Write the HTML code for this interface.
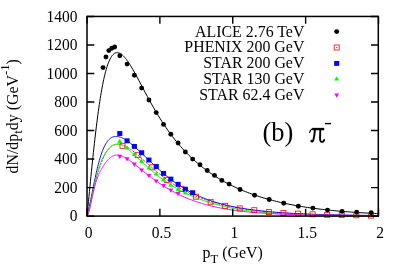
<!DOCTYPE html>
<html><head><meta charset="utf-8"><title>chart</title>
<style>html,body{margin:0;padding:0;background:#fff;}body{width:407px;height:267px;overflow:hidden;position:relative;font-family:"Liberation Serif",serif;}</style></head>
<body>
<svg width="407" height="267" viewBox="0 0 407 267" style="position:absolute;left:0;top:0">
<rect width="407" height="267" fill="#fff"/>
<path d="M87.00,216.00 L87.49,211.26 L87.98,206.35 L88.47,201.38 L88.97,196.39 L89.46,191.39 L89.95,186.41 L90.44,181.45 L90.93,176.52 L91.42,171.64 L91.91,166.81 L92.40,162.04 L92.90,157.33 L93.39,152.70 L93.88,148.16 L94.37,143.69 L94.86,139.32 L95.35,135.05 L95.84,130.88 L96.33,126.81 L96.83,122.85 L97.32,119.00 L97.81,115.26 L98.30,111.64 L98.79,108.13 L99.28,104.74 L99.77,101.47 L100.26,98.32 L100.76,95.29 L101.25,92.38 L101.74,89.58 L102.23,86.90 L102.72,84.35 L103.21,81.90 L103.70,79.58 L104.20,77.36 L104.69,75.26 L105.18,73.27 L105.67,71.39 L106.16,69.61 L106.65,67.94 L107.14,66.37 L107.63,64.90 L108.13,63.53 L108.62,62.25 L109.11,61.06 L109.60,59.97 L110.09,58.96 L110.58,58.04 L111.07,57.20 L111.56,56.44 L112.06,55.76 L112.55,55.15 L113.04,54.62 L113.53,54.15 L114.02,53.75 L114.51,53.42 L115.00,53.14 L115.49,52.93 L115.99,52.78 L116.48,52.68 L116.97,52.63 L117.46,52.63 L117.95,52.69 L118.44,52.79 L118.93,52.93 L119.43,53.12 L119.92,53.35 L120.41,53.61 L120.90,53.92 L121.39,54.26 L121.88,54.64 L122.37,55.05 L122.86,55.49 L123.36,55.96 L123.85,56.46 L124.34,56.99 L124.83,57.55 L125.32,58.13 L125.81,58.74 L126.30,59.37 L126.79,60.02 L127.29,60.69 L127.78,61.38 L128.27,62.10 L128.76,62.83 L129.25,63.57 L129.74,64.34 L130.23,65.12 L130.72,65.91 L132.81,69.42 L134.89,73.11 L136.97,76.94 L139.05,80.84 L141.14,84.78 L143.22,88.73 L145.30,92.65 L147.38,96.54 L149.46,100.36 L151.55,104.12 L153.63,107.79 L155.71,111.37 L157.79,114.85 L159.88,118.24 L161.96,121.52 L164.04,124.70 L166.12,127.78 L168.20,130.75 L170.29,133.63 L172.37,136.41 L174.45,139.09 L176.53,141.68 L178.61,144.17 L180.70,146.58 L182.78,148.91 L184.86,151.15 L186.94,153.31 L189.02,155.40 L191.11,157.41 L193.19,159.36 L195.27,161.23 L197.35,163.04 L199.44,164.79 L201.52,166.48 L203.60,168.11 L205.68,169.69 L207.76,171.21 L209.85,172.69 L211.93,174.11 L214.01,175.49 L216.09,176.82 L218.17,178.11 L220.26,179.36 L222.34,180.56 L224.42,181.73 L226.50,182.86 L228.59,183.95 L230.67,185.01 L232.75,186.03 L234.83,187.03 L236.91,187.99 L239.00,188.92 L241.08,189.82 L243.16,190.69 L245.24,191.54 L247.32,192.35 L249.41,193.15 L251.49,193.91 L253.57,194.66 L255.65,195.38 L257.74,196.07 L259.82,196.75 L261.90,197.40 L263.98,198.03 L266.06,198.65 L268.15,199.24 L270.23,199.81 L272.31,200.37 L274.39,200.90 L276.48,201.42 L278.56,201.93 L280.64,202.42 L282.72,202.89 L284.80,203.34 L286.89,203.78 L288.97,204.21 L291.05,204.62 L293.13,205.02 L295.21,205.41 L297.30,205.78 L299.38,206.14 L301.46,206.49 L303.54,206.83 L305.62,207.15 L307.71,207.47 L309.79,207.77 L311.87,208.07 L313.95,208.35 L316.04,208.63 L318.12,208.89 L320.20,209.15 L322.28,209.40 L324.36,209.64 L326.45,209.87 L328.53,210.09 L330.61,210.30 L332.69,210.51 L334.77,210.71 L336.86,210.91 L338.94,211.09 L341.02,211.27 L343.10,211.45 L345.19,211.61 L347.27,211.78 L349.35,211.93 L351.43,212.08 L353.51,212.23 L355.60,212.37 L357.68,212.50 L359.76,212.63 L361.84,212.76 L363.93,212.88 L366.01,213.00 L368.09,213.11 L370.17,213.22 L372.25,213.32 L374.34,213.42 L376.42,213.52 L378.50,213.61" stroke="#000" stroke-width="1.0" fill="none"/>
<path d="M87.00,216.00 L87.49,214.16 L87.98,212.17 L88.47,210.13 L88.97,208.06 L89.46,205.96 L89.95,203.86 L90.44,201.76 L90.93,199.66 L91.42,197.58 L91.91,195.51 L92.40,193.46 L92.90,191.43 L93.39,189.43 L93.88,187.46 L94.37,185.52 L94.86,183.62 L95.35,181.76 L95.84,179.93 L96.33,178.15 L96.83,176.42 L97.32,174.73 L97.81,173.08 L98.30,171.49 L98.79,169.94 L99.28,168.44 L99.77,166.99 L100.26,165.59 L100.76,164.24 L101.25,162.93 L101.74,161.68 L102.23,160.48 L102.72,159.33 L103.21,158.23 L103.70,157.17 L104.20,156.17 L104.69,155.21 L105.18,154.30 L105.67,153.43 L106.16,152.61 L106.65,151.83 L107.14,151.10 L107.63,150.41 L108.13,149.76 L108.62,149.15 L109.11,148.58 L109.60,148.05 L110.09,147.56 L110.58,147.10 L111.07,146.68 L111.56,146.30 L112.06,145.94 L112.55,145.63 L113.04,145.34 L113.53,145.08 L114.02,144.86 L114.51,144.66 L115.00,144.49 L115.49,144.35 L115.99,144.24 L116.48,144.15 L116.97,144.09 L117.46,144.05 L117.95,144.03 L118.44,144.03 L118.93,144.06 L119.43,144.11 L119.92,144.18 L120.41,144.26 L120.90,144.37 L121.39,144.49 L121.88,144.63 L122.37,144.79 L122.86,144.96 L123.36,145.15 L123.85,145.35 L124.34,145.56 L124.83,145.79 L125.32,146.03 L125.81,146.29 L126.30,146.55 L126.79,146.83 L127.29,147.12 L127.78,147.42 L128.27,147.72 L128.76,148.04 L129.25,148.37 L129.74,148.70 L130.23,149.04 L130.72,149.39 L132.81,150.95 L134.89,152.61 L136.97,154.35 L139.05,156.14 L141.14,157.97 L143.22,159.83 L145.30,161.69 L147.38,163.55 L149.46,165.40 L151.55,167.23 L153.63,169.04 L155.71,170.81 L157.79,172.54 L159.88,174.23 L161.96,175.88 L164.04,177.49 L166.12,179.05 L168.20,180.55 L170.29,182.01 L172.37,183.42 L174.45,184.79 L176.53,186.10 L178.61,187.36 L180.70,188.58 L182.78,189.75 L184.86,190.87 L186.94,191.95 L189.02,192.99 L191.11,193.99 L193.19,194.94 L195.27,195.85 L197.35,196.73 L199.44,197.57 L201.52,198.37 L203.60,199.14 L205.68,199.87 L207.76,200.58 L209.85,201.25 L211.93,201.90 L214.01,202.51 L216.09,203.10 L218.17,203.67 L220.26,204.21 L222.34,204.72 L224.42,205.21 L226.50,205.68 L228.59,206.14 L230.67,206.57 L232.75,206.98 L234.83,207.37 L236.91,207.75 L239.00,208.11 L241.08,208.45 L243.16,208.78 L245.24,209.09 L247.32,209.39 L249.41,209.68 L251.49,209.95 L253.57,210.22 L255.65,210.47 L257.74,210.71 L259.82,210.94 L261.90,211.16 L263.98,211.37 L266.06,211.57 L268.15,211.76 L270.23,211.94 L272.31,212.12 L274.39,212.28 L276.48,212.44 L278.56,212.60 L280.64,212.74 L282.72,212.88 L284.80,213.02 L286.89,213.15 L288.97,213.27 L291.05,213.39 L293.13,213.50 L295.21,213.61 L297.30,213.71 L299.38,213.81 L301.46,213.90 L303.54,213.99 L305.62,214.08 L307.71,214.16 L309.79,214.24 L311.87,214.32 L313.95,214.39 L316.04,214.46 L318.12,214.52 L320.20,214.59 L322.28,214.65 L324.36,214.71 L326.45,214.76 L328.53,214.81 L330.61,214.86 L332.69,214.91 L334.77,214.96 L336.86,215.00 L338.94,215.05 L341.02,215.09 L343.10,215.13 L345.19,215.16 L347.27,215.20 L349.35,215.23 L351.43,215.27 L353.51,215.30 L355.60,215.33 L357.68,215.36 L359.76,215.38 L361.84,215.41 L363.93,215.44 L366.01,215.46 L368.09,215.48 L370.17,215.50 L372.25,215.53 L374.34,215.55 L376.42,215.57 L378.50,215.58" stroke="#f00" stroke-width="0.9" fill="none" stroke-dasharray="2.3 1.2"/>
<path d="M87.00,216.00 L87.49,214.66 L87.98,212.86 L88.47,210.83 L88.97,208.66 L89.46,206.37 L89.95,204.00 L90.44,201.58 L90.93,199.11 L91.42,196.61 L91.91,194.11 L92.40,191.60 L92.90,189.10 L93.39,186.62 L93.88,184.17 L94.37,181.76 L94.86,179.39 L95.35,177.06 L95.84,174.80 L96.33,172.59 L96.83,170.44 L97.32,168.36 L97.81,166.35 L98.30,164.41 L98.79,162.55 L99.28,160.76 L99.77,159.04 L100.26,157.40 L100.76,155.83 L101.25,154.34 L101.74,152.92 L102.23,151.57 L102.72,150.29 L103.21,149.09 L103.70,147.95 L104.20,146.88 L104.69,145.88 L105.18,144.94 L105.67,144.06 L106.16,143.24 L106.65,142.48 L107.14,141.77 L107.63,141.12 L108.13,140.52 L108.62,139.97 L109.11,139.46 L109.60,139.01 L110.09,138.59 L110.58,138.22 L111.07,137.89 L111.56,137.59 L112.06,137.33 L112.55,137.11 L113.04,136.92 L113.53,136.76 L114.02,136.64 L114.51,136.54 L115.00,136.47 L115.49,136.43 L115.99,136.41 L116.48,136.42 L116.97,136.45 L117.46,136.50 L117.95,136.57 L118.44,136.66 L118.93,136.77 L119.43,136.90 L119.92,137.05 L120.41,137.22 L120.90,137.40 L121.39,137.59 L121.88,137.81 L122.37,138.03 L122.86,138.27 L123.36,138.52 L123.85,138.78 L124.34,139.06 L124.83,139.34 L125.32,139.64 L125.81,139.95 L126.30,140.26 L126.79,140.59 L127.29,140.92 L127.78,141.27 L128.27,141.62 L128.76,141.98 L129.25,142.34 L129.74,142.72 L130.23,143.10 L130.72,143.48 L132.81,145.19 L134.89,146.98 L136.97,148.84 L139.05,150.76 L141.14,152.72 L143.22,154.70 L145.30,156.70 L147.38,158.70 L149.46,160.69 L151.55,162.67 L153.63,164.63 L155.71,166.56 L157.79,168.46 L159.88,170.32 L161.96,172.14 L164.04,173.91 L166.12,175.63 L168.20,177.31 L170.29,178.93 L172.37,180.51 L174.45,182.03 L176.53,183.49 L178.61,184.91 L180.70,186.27 L182.78,187.58 L184.86,188.84 L186.94,190.05 L189.02,191.21 L191.11,192.32 L193.19,193.38 L195.27,194.40 L197.35,195.38 L199.44,196.31 L201.52,197.20 L203.60,198.05 L205.68,198.86 L207.76,199.64 L209.85,200.38 L211.93,201.09 L214.01,201.76 L216.09,202.41 L218.17,203.02 L220.26,203.61 L222.34,204.17 L224.42,204.70 L226.50,205.21 L228.59,205.69 L230.67,206.15 L232.75,206.59 L234.83,207.01 L236.91,207.41 L239.00,207.80 L241.08,208.16 L243.16,208.51 L245.24,208.84 L247.32,209.15 L249.41,209.45 L251.49,209.74 L253.57,210.02 L255.65,210.28 L257.74,210.53 L259.82,210.76 L261.90,210.99 L263.98,211.21 L266.06,211.42 L268.15,211.61 L270.23,211.80 L272.31,211.98 L274.39,212.16 L276.48,212.32 L278.56,212.48 L280.64,212.63 L282.72,212.77 L284.80,212.91 L286.89,213.04 L288.97,213.17 L291.05,213.29 L293.13,213.40 L295.21,213.51 L297.30,213.62 L299.38,213.72 L301.46,213.81 L303.54,213.91 L305.62,213.99 L307.71,214.08 L309.79,214.16 L311.87,214.24 L313.95,214.31 L316.04,214.38 L318.12,214.45 L320.20,214.51 L322.28,214.57 L324.36,214.63 L326.45,214.69 L328.53,214.75 L330.61,214.80 L332.69,214.85 L334.77,214.90 L336.86,214.94 L338.94,214.99 L341.02,215.03 L343.10,215.07 L345.19,215.11 L347.27,215.15 L349.35,215.18 L351.43,215.21 L353.51,215.25 L355.60,215.28 L357.68,215.31 L359.76,215.34 L361.84,215.37 L363.93,215.39 L366.01,215.42 L368.09,215.44 L370.17,215.46 L372.25,215.49 L374.34,215.51 L376.42,215.53 L378.50,215.55" stroke="#00f" stroke-width="0.95" fill="none"/>
<path d="M87.00,216.00 L87.49,215.27 L87.98,214.02 L88.47,212.45 L88.97,210.65 L89.46,208.66 L89.95,206.54 L90.44,204.30 L90.93,201.99 L91.42,199.64 L91.91,197.25 L92.40,194.85 L92.90,192.47 L93.39,190.11 L93.88,187.80 L94.37,185.53 L94.86,183.32 L95.35,181.18 L95.84,179.11 L96.33,177.12 L96.83,175.20 L97.32,173.37 L97.81,171.61 L98.30,169.93 L98.79,168.33 L99.28,166.80 L99.77,165.35 L100.26,163.96 L100.76,162.64 L101.25,161.38 L101.74,160.19 L102.23,159.05 L102.72,157.97 L103.21,156.94 L103.70,155.96 L104.20,155.03 L104.69,154.14 L105.18,153.31 L105.67,152.51 L106.16,151.76 L106.65,151.05 L107.14,150.37 L107.63,149.74 L108.13,149.15 L108.62,148.59 L109.11,148.07 L109.60,147.59 L110.09,147.14 L110.58,146.72 L111.07,146.35 L111.56,146.00 L112.06,145.69 L112.55,145.41 L113.04,145.16 L113.53,144.95 L114.02,144.77 L114.51,144.61 L115.00,144.49 L115.49,144.39 L115.99,144.32 L116.48,144.28 L116.97,144.27 L117.46,144.28 L117.95,144.32 L118.44,144.38 L118.93,144.47 L119.43,144.57 L119.92,144.70 L120.41,144.85 L120.90,145.02 L121.39,145.21 L121.88,145.42 L122.37,145.65 L122.86,145.89 L123.36,146.15 L123.85,146.42 L124.34,146.71 L124.83,147.01 L125.32,147.32 L125.81,147.65 L126.30,147.99 L126.79,148.34 L127.29,148.70 L127.78,149.07 L128.27,149.45 L128.76,149.84 L129.25,150.23 L129.74,150.63 L130.23,151.04 L130.72,151.46 L132.81,153.28 L134.89,155.18 L136.97,157.12 L139.05,159.08 L141.14,161.05 L143.22,163.00 L145.30,164.93 L147.38,166.82 L149.46,168.68 L151.55,170.49 L153.63,172.26 L155.71,173.97 L157.79,175.64 L159.88,177.25 L161.96,178.81 L164.04,180.32 L166.12,181.78 L168.20,183.18 L170.29,184.54 L172.37,185.85 L174.45,187.12 L176.53,188.34 L178.61,189.51 L180.70,190.64 L182.78,191.73 L184.86,192.78 L186.94,193.79 L189.02,194.77 L191.11,195.70 L193.19,196.60 L195.27,197.47 L197.35,198.30 L199.44,199.10 L201.52,199.87 L203.60,200.61 L205.68,201.32 L207.76,202.00 L209.85,202.65 L211.93,203.28 L214.01,203.88 L216.09,204.45 L218.17,205.00 L220.26,205.53 L222.34,206.03 L224.42,206.52 L226.50,206.98 L228.59,207.42 L230.67,207.84 L232.75,208.25 L234.83,208.63 L236.91,209.00 L239.00,209.35 L241.08,209.69 L243.16,210.01 L245.24,210.31 L247.32,210.60 L249.41,210.88 L251.49,211.14 L253.57,211.40 L255.65,211.63 L257.74,211.86 L259.82,212.08 L261.90,212.28 L263.98,212.48 L266.06,212.67 L268.15,212.84 L270.23,213.01 L272.31,213.17 L274.39,213.32 L276.48,213.47 L278.56,213.60 L280.64,213.73 L282.72,213.86 L284.80,213.97 L286.89,214.08 L288.97,214.19 L291.05,214.29 L293.13,214.38 L295.21,214.47 L297.30,214.56 L299.38,214.64 L301.46,214.71 L303.54,214.78 L305.62,214.85 L307.71,214.92 L309.79,214.98 L311.87,215.03 L313.95,215.09 L316.04,215.14 L318.12,215.19 L320.20,215.24 L322.28,215.28 L324.36,215.32 L326.45,215.36 L328.53,215.40 L330.61,215.43 L332.69,215.46 L334.77,215.49 L336.86,215.52 L338.94,215.55 L341.02,215.58 L343.10,215.60 L345.19,215.62 L347.27,215.65 L349.35,215.67 L351.43,215.69 L353.51,215.70 L355.60,215.72 L357.68,215.74 L359.76,215.75 L361.84,215.77 L363.93,215.78 L366.01,215.79 L368.09,215.81 L370.17,215.82 L372.25,215.83 L374.34,215.84 L376.42,215.85 L378.50,215.86" stroke="#0f0" stroke-width="0.95" fill="none"/>
<path d="M87.00,216.00 L87.49,215.58 L87.98,214.65 L88.47,213.35 L88.97,211.75 L89.46,209.90 L89.95,207.87 L90.44,205.70 L90.93,203.43 L91.42,201.10 L91.91,198.77 L92.40,196.45 L92.90,194.18 L93.39,191.97 L93.88,189.86 L94.37,187.84 L94.86,185.93 L95.35,184.14 L95.84,182.46 L96.33,180.88 L96.83,179.41 L97.32,178.04 L97.81,176.75 L98.30,175.55 L98.79,174.41 L99.28,173.34 L99.77,172.33 L100.26,171.36 L100.76,170.43 L101.25,169.54 L101.74,168.68 L102.23,167.84 L102.72,167.03 L103.21,166.25 L103.70,165.49 L104.20,164.74 L104.69,164.03 L105.18,163.33 L105.67,162.66 L106.16,162.01 L106.65,161.38 L107.14,160.78 L107.63,160.21 L108.13,159.67 L108.62,159.16 L109.11,158.67 L109.60,158.22 L110.09,157.80 L110.58,157.41 L111.07,157.05 L111.56,156.72 L112.06,156.42 L112.55,156.16 L113.04,155.92 L113.53,155.71 L114.02,155.54 L114.51,155.39 L115.00,155.27 L115.49,155.18 L115.99,155.12 L116.48,155.08 L116.97,155.06 L117.46,155.07 L117.95,155.10 L118.44,155.16 L118.93,155.23 L119.43,155.33 L119.92,155.44 L120.41,155.58 L120.90,155.73 L121.39,155.89 L121.88,156.08 L122.37,156.28 L122.86,156.49 L123.36,156.72 L123.85,156.95 L124.34,157.21 L124.83,157.47 L125.32,157.74 L125.81,158.03 L126.30,158.32 L126.79,158.62 L127.29,158.93 L127.78,159.25 L128.27,159.58 L128.76,159.91 L129.25,160.25 L129.74,160.59 L130.23,160.94 L130.72,161.30 L132.81,162.86 L134.89,164.47 L136.97,166.12 L139.05,167.80 L141.14,169.48 L143.22,171.15 L145.30,172.81 L147.38,174.45 L149.46,176.06 L151.55,177.64 L153.63,179.18 L155.71,180.68 L157.79,182.15 L159.88,183.57 L161.96,184.95 L164.04,186.29 L166.12,187.58 L168.20,188.83 L170.29,190.03 L172.37,191.20 L174.45,192.31 L176.53,193.39 L178.61,194.43 L180.70,195.42 L182.78,196.38 L184.86,197.29 L186.94,198.17 L189.02,199.01 L191.11,199.82 L193.19,200.59 L195.27,201.33 L197.35,202.04 L199.44,202.71 L201.52,203.35 L203.60,203.97 L205.68,204.56 L207.76,205.12 L209.85,205.65 L211.93,206.16 L214.01,206.64 L216.09,207.10 L218.17,207.54 L220.26,207.96 L222.34,208.36 L224.42,208.74 L226.50,209.10 L228.59,209.44 L230.67,209.77 L232.75,210.08 L234.83,210.37 L236.91,210.65 L239.00,210.91 L241.08,211.16 L243.16,211.40 L245.24,211.63 L247.32,211.85 L249.41,212.05 L251.49,212.24 L253.57,212.43 L255.65,212.60 L257.74,212.77 L259.82,212.92 L261.90,213.07 L263.98,213.21 L266.06,213.35 L268.15,213.47 L270.23,213.59 L272.31,213.71 L274.39,213.82 L276.48,213.92 L278.56,214.02 L280.64,214.11 L282.72,214.19 L284.80,214.28 L286.89,214.36 L288.97,214.43 L291.05,214.50 L293.13,214.57 L295.21,214.63 L297.30,214.69 L299.38,214.75 L301.46,214.80 L303.54,214.86 L305.62,214.90 L307.71,214.95 L309.79,215.00 L311.87,215.04 L313.95,215.08 L316.04,215.12 L318.12,215.15 L320.20,215.19 L322.28,215.22 L324.36,215.25 L326.45,215.28 L328.53,215.31 L330.61,215.33 L332.69,215.36 L334.77,215.38 L336.86,215.41 L338.94,215.43 L341.02,215.45 L343.10,215.47 L345.19,215.49 L347.27,215.51 L349.35,215.52 L351.43,215.54 L353.51,215.56 L355.60,215.57 L357.68,215.59 L359.76,215.60 L361.84,215.61 L363.93,215.63 L366.01,215.64 L368.09,215.65 L370.17,215.66 L372.25,215.67 L374.34,215.68 L376.42,215.69 L378.50,215.70" stroke="#f0f" stroke-width="0.95" fill="none"/>
<rect x="119.98" y="143.30" width="5" height="5" fill="none" stroke="#f00" stroke-width="0.8"/>
<rect x="135.21" y="152.70" width="5" height="5" fill="none" stroke="#f00" stroke-width="0.8"/>
<rect x="149.79" y="164.80" width="5" height="5" fill="none" stroke="#f00" stroke-width="0.8"/>
<rect x="164.36" y="177.30" width="5" height="5" fill="none" stroke="#f00" stroke-width="0.8"/>
<rect x="178.94" y="186.30" width="5" height="5" fill="none" stroke="#f00" stroke-width="0.8"/>
<rect x="193.51" y="194.20" width="5" height="5" fill="none" stroke="#f00" stroke-width="0.8"/>
<rect x="208.09" y="199.30" width="5" height="5" fill="none" stroke="#f00" stroke-width="0.8"/>
<rect x="222.66" y="203.30" width="5" height="5" fill="none" stroke="#f00" stroke-width="0.8"/>
<rect x="237.24" y="205.90" width="5" height="5" fill="none" stroke="#f00" stroke-width="0.8"/>
<rect x="251.81" y="207.70" width="5" height="5" fill="none" stroke="#f00" stroke-width="0.8"/>
<rect x="266.39" y="209.60" width="5" height="5" fill="none" stroke="#f00" stroke-width="0.8"/>
<rect x="280.96" y="210.50" width="5" height="5" fill="none" stroke="#f00" stroke-width="0.8"/>
<rect x="295.54" y="211.10" width="5" height="5" fill="none" stroke="#f00" stroke-width="0.8"/>
<rect x="310.11" y="211.80" width="5" height="5" fill="none" stroke="#f00" stroke-width="0.8"/>
<rect x="324.69" y="212.30" width="5" height="5" fill="none" stroke="#f00" stroke-width="0.8"/>
<rect x="339.26" y="212.50" width="5" height="5" fill="none" stroke="#f00" stroke-width="0.8"/>
<rect x="353.84" y="212.80" width="5" height="5" fill="none" stroke="#f00" stroke-width="0.8"/>
<rect x="368.41" y="213.10" width="5" height="5" fill="none" stroke="#f00" stroke-width="0.8"/>
<rect x="117.24" y="131.05" width="5.1" height="4.9" fill="#00f"/>
<rect x="124.53" y="138.35" width="5.1" height="4.9" fill="#00f"/>
<rect x="131.82" y="143.95" width="5.1" height="4.9" fill="#00f"/>
<rect x="139.11" y="150.25" width="5.1" height="4.9" fill="#00f"/>
<rect x="146.39" y="157.55" width="5.1" height="4.9" fill="#00f"/>
<rect x="153.68" y="164.05" width="5.1" height="4.9" fill="#00f"/>
<rect x="160.97" y="170.95" width="5.1" height="4.9" fill="#00f"/>
<rect x="168.26" y="176.65" width="5.1" height="4.9" fill="#00f"/>
<rect x="175.54" y="181.85" width="5.1" height="4.9" fill="#00f"/>
<rect x="182.83" y="186.75" width="5.1" height="4.9" fill="#00f"/>
<rect x="190.12" y="190.25" width="5.1" height="4.9" fill="#00f"/>
<path d="M119.79,138.80 L117.39,143.10 L122.19,143.10Z" fill="#0f0"/>
<path d="M127.08,145.30 L124.68,149.60 L129.48,149.60Z" fill="#0f0"/>
<path d="M134.37,151.60 L131.97,155.90 L136.77,155.90Z" fill="#0f0"/>
<path d="M141.66,158.60 L139.26,162.90 L144.06,162.90Z" fill="#0f0"/>
<path d="M148.94,165.20 L146.54,169.50 L151.34,169.50Z" fill="#0f0"/>
<path d="M156.23,171.20 L153.83,175.50 L158.63,175.50Z" fill="#0f0"/>
<path d="M163.52,177.10 L161.12,181.40 L165.92,181.40Z" fill="#0f0"/>
<path d="M170.81,182.40 L168.41,186.70 L173.21,186.70Z" fill="#0f0"/>
<path d="M178.09,186.70 L175.69,191.00 L180.49,191.00Z" fill="#0f0"/>
<path d="M185.38,190.10 L182.98,194.40 L187.78,194.40Z" fill="#0f0"/>
<path d="M119.79,159.10 L117.39,154.80 L122.19,154.80Z" fill="#f0f"/>
<path d="M127.08,161.60 L124.68,157.30 L129.48,157.30Z" fill="#f0f"/>
<path d="M134.37,166.90 L131.97,162.60 L136.77,162.60Z" fill="#f0f"/>
<path d="M141.66,172.80 L139.26,168.50 L144.06,168.50Z" fill="#f0f"/>
<path d="M148.94,178.30 L146.54,174.00 L151.34,174.00Z" fill="#f0f"/>
<path d="M156.23,183.80 L153.83,179.50 L158.63,179.50Z" fill="#f0f"/>
<path d="M163.52,188.30 L161.12,184.00 L165.92,184.00Z" fill="#f0f"/>
<path d="M170.81,192.80 L168.41,188.50 L173.21,188.50Z" fill="#f0f"/>
<path d="M178.09,196.30 L175.69,192.00 L180.49,192.00Z" fill="#f0f"/>
<circle cx="103.03" cy="67.60" r="2.45" fill="#000"/>
<circle cx="105.95" cy="57.00" r="2.45" fill="#000"/>
<circle cx="108.86" cy="50.60" r="2.45" fill="#000"/>
<circle cx="111.78" cy="48.20" r="2.45" fill="#000"/>
<circle cx="114.69" cy="47.00" r="2.45" fill="#000"/>
<circle cx="119.79" cy="55.70" r="2.45" fill="#000"/>
<circle cx="127.08" cy="64.10" r="2.45" fill="#000"/>
<circle cx="134.37" cy="75.20" r="2.45" fill="#000"/>
<circle cx="141.66" cy="88.10" r="2.45" fill="#000"/>
<circle cx="148.94" cy="100.00" r="2.45" fill="#000"/>
<circle cx="156.23" cy="112.60" r="2.45" fill="#000"/>
<circle cx="163.52" cy="124.40" r="2.45" fill="#000"/>
<circle cx="170.81" cy="134.30" r="2.45" fill="#000"/>
<circle cx="178.09" cy="143.00" r="2.45" fill="#000"/>
<circle cx="185.38" cy="152.00" r="2.45" fill="#000"/>
<circle cx="192.67" cy="159.10" r="2.45" fill="#000"/>
<circle cx="199.96" cy="164.80" r="2.45" fill="#000"/>
<circle cx="207.24" cy="170.50" r="2.45" fill="#000"/>
<circle cx="214.53" cy="175.40" r="2.45" fill="#000"/>
<circle cx="221.82" cy="180.40" r="2.45" fill="#000"/>
<circle cx="229.11" cy="184.10" r="2.45" fill="#000"/>
<circle cx="240.04" cy="189.50" r="2.45" fill="#000"/>
<circle cx="254.61" cy="195.30" r="2.45" fill="#000"/>
<circle cx="269.19" cy="199.50" r="2.45" fill="#000"/>
<circle cx="283.76" cy="203.20" r="2.45" fill="#000"/>
<circle cx="298.34" cy="206.20" r="2.45" fill="#000"/>
<circle cx="312.91" cy="208.10" r="2.45" fill="#000"/>
<circle cx="327.49" cy="210.10" r="2.45" fill="#000"/>
<circle cx="342.06" cy="211.40" r="2.45" fill="#000"/>
<circle cx="356.64" cy="212.20" r="2.45" fill="#000"/>
<circle cx="371.21" cy="212.80" r="2.45" fill="#000"/>
<path d="M87.0,216.10h7.3 M378.3,216.10h-7.3 M87.0,187.58h7.3 M378.3,187.58h-7.3 M87.0,159.06h7.3 M378.3,159.06h-7.3 M87.0,130.54h7.3 M378.3,130.54h-7.3 M87.0,102.01h7.3 M378.3,102.01h-7.3 M87.0,73.49h7.3 M378.3,73.49h-7.3 M87.0,44.97h7.3 M378.3,44.97h-7.3 M87.0,16.45h7.3 M378.3,16.45h-7.3 M87.00,216.1v-7.3 M87.00,16.45v7.3 M159.88,216.1v-7.3 M159.88,16.45v7.3 M232.75,216.1v-7.3 M232.75,16.45v7.3 M305.62,216.1v-7.3 M305.62,16.45v7.3 M378.50,216.1v-7.3 M378.50,16.45v7.3" stroke="#000" stroke-width="1.4" fill="none"/>
<rect x="87.0" y="16.45" width="291.3" height="199.65" fill="none" stroke="#000" stroke-width="1.5"/>
<circle cx="336.70" cy="31.60" r="2.45" fill="#000"/>
<rect x="334.20" y="45.00" width="5" height="5" fill="none" stroke="#f00" stroke-width="0.8"/>
<rect x="336.2" y="47" width="1" height="1" fill="#f00"/>
<rect x="334.15" y="60.95" width="5.1" height="4.9" fill="#00f"/>
<path d="M336.70,76.30 L334.30,80.60 L339.10,80.60Z" fill="#0f0"/>
<path d="M336.70,97.70 L334.30,93.40 L339.10,93.40Z" fill="#f0f"/>
<g opacity="0.999">
<text transform="translate(77.40,221.35) scale(0.935,1)" text-anchor="end" style="font-family:'Liberation Serif',serif;fill:#000;font-size:16.6px">0</text>
<text transform="translate(77.40,192.83) scale(0.935,1)" text-anchor="end" style="font-family:'Liberation Serif',serif;fill:#000;font-size:16.6px">200</text>
<text transform="translate(77.40,164.31) scale(0.935,1)" text-anchor="end" style="font-family:'Liberation Serif',serif;fill:#000;font-size:16.6px">400</text>
<text transform="translate(77.40,135.79) scale(0.935,1)" text-anchor="end" style="font-family:'Liberation Serif',serif;fill:#000;font-size:16.6px">600</text>
<text transform="translate(77.40,107.26) scale(0.935,1)" text-anchor="end" style="font-family:'Liberation Serif',serif;fill:#000;font-size:16.6px">800</text>
<text transform="translate(77.40,78.74) scale(0.935,1)" text-anchor="end" style="font-family:'Liberation Serif',serif;fill:#000;font-size:16.6px">1000</text>
<text transform="translate(77.40,50.22) scale(0.935,1)" text-anchor="end" style="font-family:'Liberation Serif',serif;fill:#000;font-size:16.6px">1200</text>
<text transform="translate(77.40,21.70) scale(0.935,1)" text-anchor="end" style="font-family:'Liberation Serif',serif;fill:#000;font-size:16.6px">1400</text>
<text transform="translate(88.60,237.50) scale(0.935,1)" text-anchor="middle" style="font-family:'Liberation Serif',serif;fill:#000;font-size:16.6px">0</text>
<text transform="translate(161.47,237.50) scale(0.935,1)" text-anchor="middle" style="font-family:'Liberation Serif',serif;fill:#000;font-size:16.6px">0.5</text>
<text transform="translate(234.35,237.50) scale(0.935,1)" text-anchor="middle" style="font-family:'Liberation Serif',serif;fill:#000;font-size:16.6px">1</text>
<text transform="translate(307.23,237.50) scale(0.935,1)" text-anchor="middle" style="font-family:'Liberation Serif',serif;fill:#000;font-size:16.6px">1.5</text>
<text transform="translate(380.10,237.50) scale(0.935,1)" text-anchor="middle" style="font-family:'Liberation Serif',serif;fill:#000;font-size:16.6px">2</text>
<text x="304.4" y="36.70" text-anchor="end" style="font-family:'Liberation Serif',serif;fill:#000;font-size:15.9px">ALICE 2.76 TeV</text>
<text x="304.4" y="52.40" text-anchor="end" style="font-family:'Liberation Serif',serif;fill:#000;font-size:15.9px">PHENIX 200 GeV</text>
<text x="304.4" y="68.10" text-anchor="end" style="font-family:'Liberation Serif',serif;fill:#000;font-size:15.9px">STAR 200 GeV</text>
<text x="304.4" y="83.80" text-anchor="end" style="font-family:'Liberation Serif',serif;fill:#000;font-size:15.9px">STAR 130 GeV</text>
<text x="304.4" y="99.50" text-anchor="end" style="font-family:'Liberation Serif',serif;fill:#000;font-size:15.9px">STAR 62.4 GeV</text>
<text x="202.5" y="258.4" style="font-family:'Liberation Serif',serif;fill:#000;font-size:15.9px">p<tspan dy="5" style="font-size:12.7px">T</tspan><tspan dy="-5"> (GeV)</tspan></text>
<text transform="translate(18.0,173.5) rotate(-90)" style="font-family:'Liberation Serif',serif;fill:#000;font-size:15.9px">dN/dp<tspan dy="4" style="font-size:12.7px">t</tspan><tspan dy="-4">dy (GeV</tspan><tspan dy="-8.6" style="font-size:12.7px">-1</tspan><tspan dy="8.6">)</tspan></text>
</g>
<g opacity="0.999">
<text x="262.5" y="141.3" style="font-family:'Liberation Serif',serif;fill:#000;font-size:26.5px">(b)</text>
<g fill="none" stroke="#000" stroke-linecap="round" stroke-linejoin="round"><path d="M309.7,132.4 C310.2,130.4 311.1,129.2 312.6,129.0" stroke-width="1.25"/><path d="M312.2,129.05 L324.2,129.05" stroke-width="2.4" stroke-linecap="butt"/><path d="M314.9,129.6 C314.7,133 314.2,137 313.5,139.6 C313.1,141.1 312.4,141.8 311.7,141.5" stroke-width="1.9"/><circle cx="311.7" cy="141.0" r="0.7" stroke-width="1.2"/><path d="M320.3,129.6 C320.2,133 320.0,137 320.1,139.5 C320.2,141.5 321.3,142.1 322.6,141.8 C323.5,141.5 324.0,140.8 324.2,140.0" stroke-width="1.9"/></g>
<rect x="325.0" y="122.9" width="6.0" height="1.4" fill="#000"/>
</g>
</svg>
</body></html>
